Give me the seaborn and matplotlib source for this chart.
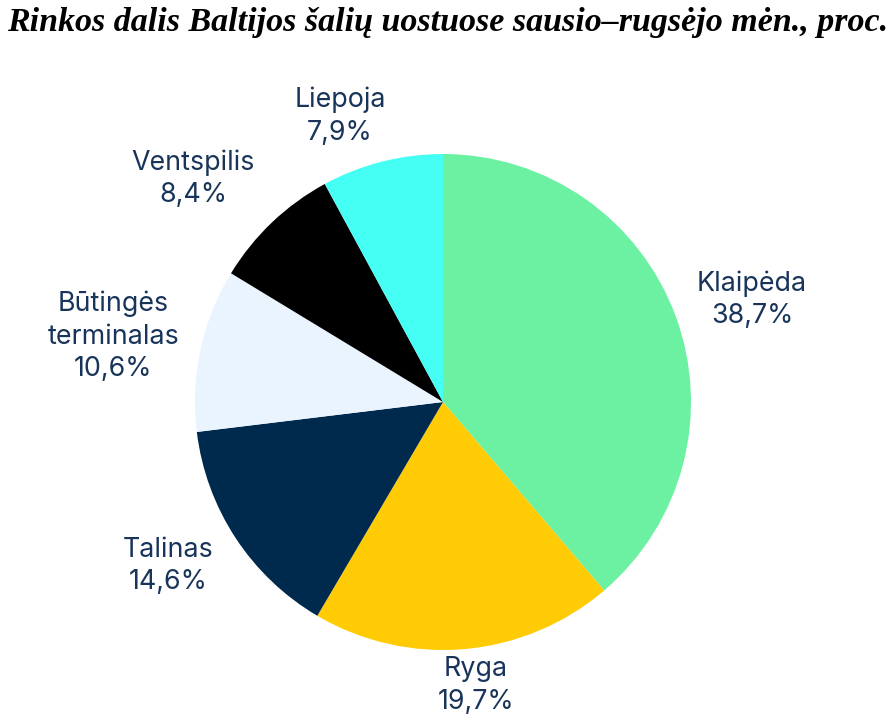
import numpy as np
import matplotlib
matplotlib.use("Agg")
import matplotlib.pyplot as plt
import seaborn as sns

sns.set_theme(style="white", context="notebook")
plt.rcParams["font.family"] = ["Inter", "DejaVu Sans"]

# market share in Baltic ports, Jan-Sep, %
ports = ["Klaipėda", "Ryga", "Talinas", "Būtingės\nterminalas", "Ventspilis", "Liepoja"]
shares = [38.7, 19.7, 14.6, 10.6, 8.4, 7.9]
colors = ["#6BF1A1", "#FFCB05", "#002A4D", "#EAF4FF", "#000000", "#45FFF4"]

TITLE = "Rinkos dalis Baltijos šalių uostuose sausio–rugsėjo mėn., proc."
TEXT_COLOR = "#18345A"

W, H, DPI = 895, 726, 100
CX, CY, R = 443, 402, 248  # pie centre / radius in pixels (from top-left)
# label placement: radial distance (pie radii) and angular nudge (deg)
label_dist = [1.312, 1.151, 1.290, 1.355, 1.351, 1.225]
label_nudge = [-2.0, 1.6, -2.4, 0.9, 4.6, 5.6]

fig = plt.figure(figsize=(W / DPI, H / DPI), dpi=DPI)
ax = fig.add_axes([0, 0, 1, 1])

wedges, _ = ax.pie(shares, colors=colors, startangle=90, counterclock=False,
                   radius=1.0, wedgeprops=dict(linewidth=0))
# pie() resets the limits, so fix the pixel mapping afterwards
ax.set_aspect("auto")
ax.set_xlim(-CX / R, (W - CX) / R)
ax.set_ylim(-(H - CY) / R, CY / R)
ax.axis("off")

for w, name, val, d, nud in zip(wedges, ports, shares, label_dist, label_nudge):
    ang = np.deg2rad((w.theta1 + w.theta2) / 2 + nud)
    ax.text(d * np.cos(ang), d * np.sin(ang),
            f"{name}\n{val:.1f}%".replace(".", ","),
            ha="center", va="center", multialignment="center",
            fontsize=19.3, color=TEXT_COLOR, linespacing=1.32)

fig.text(0.5, 0.99, TITLE, ha="center", va="top", fontsize=24.5,
         family=["Liberation Serif", "DejaVu Serif"], weight="bold",
         style="italic", color="black")

fig.savefig("out.png", dpi=DPI, facecolor="white")
